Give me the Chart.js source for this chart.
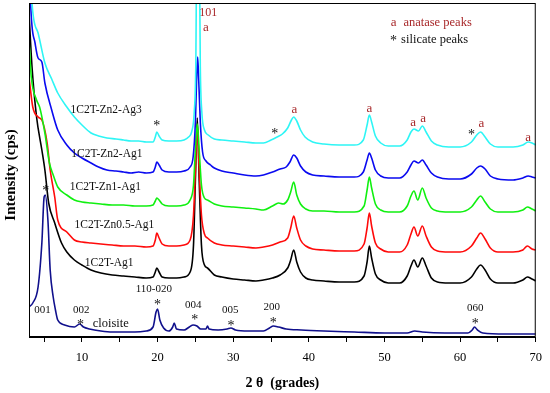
<!DOCTYPE html>
<html>
<head>
<meta charset="utf-8">
<script src="https://cdn.jsdelivr.net/npm/chart.js@4.4.1/dist/chart.umd.min.js"></script>
<style>
html,body{margin:0;padding:0;background:#fff;}
#c{display:block;}
</style>
</head>
<body>
<canvas id="c" width="550" height="393"></canvas>
<script>
// ---- Data: [2θ (deg), intensity (a.u.)] ----
const zn2ag3 = [[3.2,380],[3.4,334],[4.2,304],[5.1,274],[6.0,258],[6.8,244],[8,230],[9,220],[10,212],[11.2,204],[12.2,201],[13.3,199],[14.5,198],[15.5,197],[16.5,196],[17.5,196],[18.5,195],[19.4,195],[19.7,200],[19.9,205],[20.2,201],[20.6,197],[21.5,196],[22.5,196],[23.5,197],[24.1,200],[24.5,205],[24.85,225],[25.05,270],[25.2,400],[25.5,400],[25.65,270],[25.85,225],[26.2,207],[26.7,202],[27.5,198],[28.5,197],[30,196],[31.5,195],[33,194],[34,194],[35,197],[35.8,200],[36.5,203],[37.2,209],[37.7,217],[38.0,220],[38.4,216],[38.9,207],[39.5,200],[40.5,195],[42,193],[44,192],[46,192],[47.2,197],[47.7,212],[48.0,222],[48.3,215],[48.8,201],[49.5,194],[50.5,191],[52,191],[53.0,197],[53.5,205],[53.9,208],[54.5,206],[55.0,211],[55.5,205],[56.2,196],[57,192],[58.5,190],[60,190],[61.5,195],[62.2,202],[62.7,205],[63.3,200],[64,193],[65,190],[67,190],[68.3,192],[69,195],[69.5,194],[70,192]];

const zn2ag1 = [[3.1,380],[3.2,337],[3.8,294],[4.2,279],[4.7,275],[5.1,254],[6.0,227],[6.8,207],[8,192],[9,184],[10,179],[11.2,174],[12.2,170],[13.3,167],[14.5,166],[15.5,165],[16.5,164],[17.5,165],[18.5,164],[19.4,165],[19.7,170],[19.9,175],[20.2,172],[20.6,167],[21.5,165],[22.5,165],[23.5,166],[24.3,170],[24.7,180],[25.0,215],[25.15,255],[25.3,280],[25.45,255],[25.65,215],[25.95,185],[26.4,176],[27,172],[27.5,169],[28.5,166],[30,164],[31.5,162],[33,161],[34,162],[35.2,165],[36.2,168],[37.0,170],[37.5,175],[38.0,182],[38.4,179],[38.9,171],[39.6,165],[40.5,162],[42,161],[44,160],[46,160],[47.2,165],[47.7,177],[48.0,184],[48.3,179],[48.8,167],[49.5,161],[50.5,159],[52,159],[53.0,165],[53.5,172],[53.9,176],[54.5,174],[55.0,177],[55.5,172],[56.2,164],[57,160],[58.5,158],[60,158],[61.5,163],[62.2,169],[62.7,171],[63.3,168],[64,161],[65,158],[67,157],[68.3,159],[69,161],[69.5,160],[70,159]];

const zn1ag1 = [[3.0,297],[3.3,260],[4.0,237],[4.4,230],[5.1,204],[5.7,174],[6.2,162],[6.8,150],[8,142],[9,137],[10,135],[11.2,134],[12.5,133],[14,132],[15.5,132],[17,131],[18.5,131],[19.4,132],[19.7,136],[19.9,139],[20.2,137],[20.6,133],[21.5,131],[22.5,131],[23.5,132],[24.3,137],[24.75,152],[25.0,187],[25.25,213],[25.5,187],[25.8,152],[26.2,139],[26.6,137],[27.5,133],[28.5,131],[30,130],[31.5,129],[33,128],[34,127],[35.2,131],[36.0,134],[36.6,133],[37.2,137],[37.6,145],[38.0,155],[38.4,142],[38.9,133],[39.6,128],[40.5,126],[42,126],[44,125],[46,125],[47.3,131],[47.7,147],[48.0,160],[48.3,149],[48.8,133],[49.5,127],[50.5,125],[52,125],[53.0,131],[53.5,141],[53.9,146],[54.4,137],[55.0,149],[55.5,139],[56.2,129],[57,126],[58.5,125],[60,125],[61.5,130],[62.2,137],[62.7,141],[63.3,135],[64,128],[65,125],[67,125],[68.3,127],[68.9,130],[69.5,128],[70,126]];

const zn05ag1 = [[3.0,260],[3.5,230],[4.2,220],[4.7,217],[5.4,194],[5.8,167],[6.4,140],[6.8,117],[8,105],[9,97],[10,95],[11.2,94],[12.5,93],[14,92],[15.5,91],[17,91],[18.5,90],[19.4,91],[19.7,97],[19.9,104],[20.2,99],[20.6,93],[21.5,91],[22.5,91],[23.5,92],[24.3,97],[24.75,122],[25.0,167],[25.25,211],[25.5,167],[25.8,122],[26.2,103],[26.6,99],[27.5,94],[28.5,92],[30,91],[31.5,90],[33,89],[34,90],[35.2,92],[36.2,95],[37.2,99],[37.6,109],[38.0,121],[38.4,109],[38.9,97],[39.6,91],[40.5,88],[42,87],[44,86],[46,86],[47.3,93],[47.7,109],[48.0,124],[48.3,111],[48.8,94],[49.5,88],[50.5,85],[52,85],[53.0,92],[53.5,103],[53.9,110],[54.4,101],[55.0,111],[55.5,101],[56.2,90],[57,86],[58.5,85],[60,85],[61.5,91],[62.2,99],[62.7,104],[63.3,98],[64,89],[65,85],[67,85],[68.3,87],[68.9,91],[69.5,88],[70,87]];

const ag1 = [[3.0,324],[3.4,270],[4.0,220],[4.7,187],[5.1,167],[5.6,134],[6.4,114],[7.3,94],[8,85],[9,77],[10,72],[11.2,67],[12.5,64],[14,62],[15.5,61],[17,60],[18.5,59],[19.4,60],[19.7,65],[19.9,69],[20.2,65],[20.6,60],[21.5,59],[22.5,59],[23.5,60],[24.3,65],[24.75,92],[25.0,157],[25.25,219],[25.5,157],[25.8,92],[26.2,72],[26.6,69],[27.5,62],[28.5,60],[30,58],[31.5,57],[33,56],[34,57],[35.2,59],[36.2,62],[37.2,69],[37.6,77],[38.0,87],[38.4,75],[38.9,65],[39.6,59],[40.5,57],[42,56],[44,55],[46,55],[47.3,61],[47.7,75],[48.0,91],[48.3,79],[48.8,63],[49.5,57],[50.5,54],[52,54],[53.0,61],[53.5,71],[53.9,77],[54.4,70],[55.0,79],[55.5,71],[56.2,59],[57,55],[58.5,54],[60,54],[61.5,60],[62.2,68],[62.7,72],[63.3,67],[64,58],[65,54],[67,54],[68.3,57],[68.9,60],[69.5,58],[70,56]];

const cloisite = [[3.0,30],[3.5,34],[4.2,50],[4.7,94],[5.0,140],[5.15,142],[5.5,117],[5.8,67],[6.2,40],[6.5,27],[6.8,17],[7.7,12],[9,10],[9.7,13],[10.2,10],[11,8],[12.5,6],[14,5],[15.5,5],[17,5],[18.5,6],[19.4,10],[19.8,25],[20.0,28],[20.3,17],[20.8,9],[21.5,6],[22.0,10],[22.2,14],[22.5,8],[23.5,7],[24.2,10],[24.7,12],[25.2,11],[25.7,8],[26.4,8],[26.6,11],[26.8,8],[28,7],[29.2,8],[29.7,9],[30.3,7],[32,6],[34,6],[34.8,9],[35.3,11],[36,10],[37,8],[39,7],[42,6],[46,5],[50,4],[53,4],[54,6],[55,5],[58,4],[61,4],[61.6,7],[61.9,10],[62.3,7],[63,4],[66,3],[70,3]];

const seriesNames  = ['1C2T-Zn2-Ag3','1C2T-Zn2-Ag1','1C2T-Zn1-Ag1','1C2T-Zn0.5-Ag1','1C2T-Ag1','cloisite'];
const seriesData   = [zn2ag3, zn2ag1, zn1ag1, zn05ag1, ag1, cloisite];
const seriesColors = ['#2ef5f5','#0a0af0','#10f010','#ff0a0a','#000000','#10108c'];

const xTickValues = [5,10,15,20,25,30,35,40,45,50,55,60,65,70];
const xTickLabels = [10,20,30,40,50,60,70];

// sample-name labels: [text, 2θ centre, intensity]
const sampleLabels = [['1C2T-Zn2-Ag3',13.2,227],['1C2T-Zn2-Ag1',13.3,183],['1C2T-Zn1-Ag1',13.1,150],['1C2T-Zn0.5-Ag1',14.3,112],['1C2T-Ag1',13.6,74],['cloisite',13.8,13]];
// silicate reflections: [text, 2θ, intensity]
const silicateLabels = [['001',4.8,27],['002',9.9,27],['110-020',19.5,48],['004',24.7,32],['005',29.6,27],['200',35.1,30],['060',62.0,29]];
const silicateStars = [[5.2,149],[9.8,15],[20.0,35],[24.9,20],[29.7,14],[35.3,17],[62.0,16],[19.9,214],[35.5,206],[61.5,205]];
const anataseMarks = [[26.4,309],[38.1,227],[48.0,228],[53.8,214],[55.1,218],[62.8,213],[69.0,199]];

const RED = '#a8282a';
const SERIF = '"Liberation Serif", "Times New Roman", serif';

const annot = {
  id:'annot',
  afterDatasetsDraw(chart){
    const {ctx, chartArea:a, scales:{x,y}} = chart;
    ctx.save();
    ctx.strokeStyle = '#000'; ctx.lineWidth = 1;
    ctx.strokeRect(a.left+0.5, a.top+0.5, a.right-a.left-1, a.bottom-a.top-1);
    ctx.textAlign = 'center'; ctx.textBaseline = 'middle';
    ctx.fillStyle = '#111';
    sampleLabels.forEach(([t,d,v])=>{
      ctx.font = (t==='cloisite' ? '12.5px ' : '11.5px ') + SERIF;
      ctx.fillText(t, x.getPixelForValue(d), y.getPixelForValue(v));
    });
    ctx.font = '11px ' + SERIF;
    silicateLabels.forEach(([t,d,v])=>ctx.fillText(t, x.getPixelForValue(d), y.getPixelForValue(v)));
    ctx.font = '14px ' + SERIF;
    silicateStars.forEach(([d,v])=>ctx.fillText('*', x.getPixelForValue(d), y.getPixelForValue(v)+3));
    ctx.fillStyle = RED;
    ctx.font = '13px ' + SERIF;
    anataseMarks.forEach(([d,v])=>ctx.fillText('a', x.getPixelForValue(d), y.getPixelForValue(v)));
    ctx.font = '12px ' + SERIF;
    ctx.fillText('101', x.getPixelForValue(26.7), y.getPixelForValue(324));
    // legend
    ctx.font = '13px ' + SERIF;
    ctx.fillText('a', x.getPixelForValue(51.2), y.getPixelForValue(314));
    ctx.textAlign = 'left';
    ctx.font = '12.5px ' + SERIF;
    ctx.fillText('anatase peaks', x.getPixelForValue(52.5), y.getPixelForValue(314));
    ctx.fillStyle = '#111';
    ctx.fillText('silicate peaks', x.getPixelForValue(52.2), y.getPixelForValue(297));
    ctx.textAlign = 'center';
    ctx.font = '14px ' + SERIF;
    ctx.fillText('*', x.getPixelForValue(51.2), y.getPixelForValue(299)+3);
    // y title
    ctx.save();
    ctx.translate(11, (a.top+a.bottom)/2 + 5);
    ctx.rotate(-Math.PI/2);
    ctx.font = 'bold 15px ' + SERIF;
    ctx.fillStyle = '#000';
    ctx.fillText('Intensity (cps)', 0, 0);
    ctx.restore();
    ctx.restore();
  }
};

new Chart(document.getElementById('c'), {
  type:'line',
  data:{
    datasets: seriesData.map((d,i)=>({
      label: seriesNames[i],
      data: d.map(p=>({x:p[0], y:p[1]})),
      borderColor: seriesColors[i],
      borderWidth: 1.6,
      pointRadius: 0,
      cubicInterpolationMode: 'monotone',
      fill: false
    }))
  },
  options:{
    responsive:false, animation:false, devicePixelRatio:1,
    layout:{padding:{left:29, top:3, right:9, bottom:0}},
    plugins:{legend:{display:false}, tooltip:{enabled:false}},
    scales:{
      x:{
        type:'linear', min:3, max:70,
        afterBuildTicks(s){ s.ticks = xTickValues.map(v=>({value:v})); },
        afterFit(s){ s.height = 56; },
        ticks:{
          autoSkip:false, maxRotation:0, padding:8,
          color:'#000', font:{family:SERIF, size:12.5},
          callback:(v)=> xTickLabels.includes(v) ? String(v) : ''
        },
        grid:{display:true, drawOnChartArea:false, drawTicks:true, tickLength:5, color:'#000'},
        border:{display:true, color:'#000'},
        title:{display:true, text:'2 θ  (grades)', color:'#000', font:{family:SERIF, size:14, weight:'bold'}, padding:{top:0,bottom:1}}
      },
      y:{
        display:false, min:0, max:334
      }
    }
  },
  plugins:[annot]
});
</script>
</body>
</html>
